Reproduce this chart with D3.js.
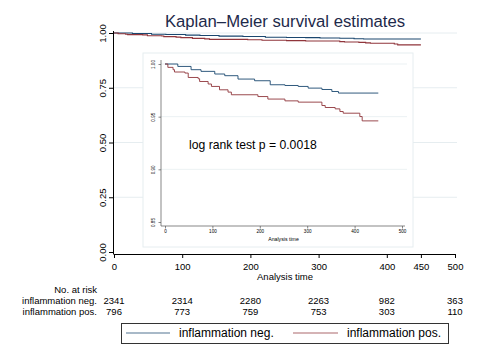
<!DOCTYPE html>
<html><head><meta charset="utf-8">
<script src="https://cdn.jsdelivr.net/npm/d3@7"></script>
<style>body{margin:0;background:#fff}svg{display:block}text{font-family:"Liberation Sans",Arial,Helvetica,sans-serif}</style>
</head><body><svg id="c" width="480" height="360"></svg>
<script>
// ---- data ----
const negTime = [0,27,55,76,105,126,154,189,222,253,281,302,331,352,366,450];
const negSurv = [1.000,0.9977,0.9946,0.9930,0.9905,0.9889,0.9857,0.9841,0.9803,0.9796,0.9787,0.9771,0.9758,0.9739,0.9724,0.9724];
const posTime = [0,6,17,20,42,49,70,73,91,98,115,133,140,196,217,253,281,331,338,359,369,376,411,416,450];
const posSurv = [1.000,0.9968,0.9946,0.9924,0.9914,0.9872,0.9860,0.9834,0.9810,0.9787,0.9755,0.9733,0.9708,0.9691,0.9667,0.9650,0.9638,0.9606,0.9587,0.9574,0.9549,0.9533,0.9501,0.9460,0.9460];
const seriesNames = ["inflammation neg.","inflammation pos."];
const riskTimes = [0,100,200,300,400,500];
const riskNeg = [2341,2314,2280,2263,982,363];
const riskPos = [796,773,759,753,303,110];
const mainXTicks = [0,100,200,300,400,450,500];
const mainYTicks = [0,0.25,0.5,0.75,1];
const insetXTicks = [0,100,200,300,400,500];
const insetYTicks = [0.85,0.90,0.95,1.00];
const titleText = "Kaplan\u2013Meier survival estimates";
const noteText = "log rank test p = 0.0018";

const colors = ["#1a476f","#90353b"];
const gridCol = "#e6edf0";
const svg = d3.select("#c");
const series = [
  negTime.map((t,i)=>[t,negSurv[i]]),
  posTime.map((t,i)=>[t,posSurv[i]])
];

// ---- title ----
svg.append("text").attr("x",285).attr("y",27).attr("text-anchor","middle")
  .attr("font-size",16.7).attr("fill","#1e2a4a").text(titleText);

// ---- main plot ----
const x = d3.scaleLinear().domain([0,500]).range([114,455]);
const y = d3.scaleLinear().domain([0,1]).range([252,33]);
const main = svg.append("g");
main.selectAll("line.g").data(mainYTicks.filter(d=>d>0)).join("line")
  .attr("x1",113).attr("x2",457).attr("y1",d=>y(d)).attr("y2",d=>y(d))
  .attr("stroke",gridCol).attr("stroke-width",1);

const xAx = main.append("g").attr("transform","translate(0,254)")
  .call(d3.axisBottom(x).tickValues(mainXTicks).tickSize(4).tickSizeOuter(0).tickFormat(d3.format("d")));
xAx.select(".domain").attr("d","M113.5,0.5H456");
xAx.selectAll("text").attr("font-size",9.5).attr("dy","0.95em").attr("fill","#000");
const yAx = main.append("g").attr("transform","translate(113,0)")
  .call(d3.axisLeft(y).tickValues(mainYTicks).tickSize(4).tickSizeOuter(0).tickFormat(d3.format(".2f")));
yAx.select(".domain").attr("d","M0.5,254H0.5V31");
yAx.selectAll(".tick text").attr("font-size",9.5).attr("fill","#000")
  .attr("x",null).attr("dy",null)
  .attr("transform","translate(-7,0) rotate(-90)").attr("text-anchor","middle").attr("dy","0em");

const line = d3.line().curve(d3.curveStepAfter).x(d=>x(d[0])).y(d=>y(d[1]));
series.forEach((s,i)=>main.append("path").attr("d",line(s)).attr("fill","none")
  .attr("stroke",colors[i]).attr("stroke-width",1.1));

// ---- inset ----
const ins = svg.append("g");
ins.append("rect").attr("x",143).attr("y",53).attr("width",270).attr("height",194)
  .attr("fill","#fff").attr("stroke",gridCol).attr("stroke-width",1);
const ix = d3.scaleLinear().domain([0,500]).range([165,402]);
const iy = d3.scaleLinear().domain([0.85,1]).range([222,64]);
ins.selectAll("line.g").data(insetYTicks.filter(d=>d>0.85)).join("line")
  .attr("x1",161).attr("x2",407).attr("y1",d=>iy(d)).attr("y2",d=>iy(d))
  .attr("stroke",gridCol).attr("stroke-width",0.8);
const ixAx = ins.append("g").attr("transform","translate(0,226)")
  .call(d3.axisBottom(ix).tickValues(insetXTicks).tickSize(2.5).tickSizeOuter(0).tickFormat(d3.format("d")));
ixAx.select(".domain").attr("d","M161,0H405");
ixAx.selectAll("path,line").attr("stroke","#555").attr("stroke-width",0.7);
ixAx.selectAll("text").attr("font-size",4.6).attr("y",4).attr("dy","0.71em").attr("fill","#000");
const iyAx = ins.append("g").attr("transform","translate(161,0)")
  .call(d3.axisLeft(iy).tickValues(insetYTicks).tickSize(2.5).tickSizeOuter(0).tickFormat(d3.format(".2f")));
iyAx.select(".domain").attr("d","M0,226V60");
iyAx.selectAll("path,line").attr("stroke","#555").attr("stroke-width",0.7);
iyAx.selectAll(".tick text").attr("font-size",4.6).attr("fill","#000")
  .attr("x",null).attr("dy",null)
  .attr("transform","translate(-6,0) rotate(-90)").attr("text-anchor","middle");
ins.append("text").attr("x",ix(250)).attr("y",241).attr("text-anchor","middle")
  .attr("font-size",5.2).text("Analysis time");
const iline = d3.line().curve(d3.curveStepAfter).x(d=>ix(d[0])).y(d=>iy(d[1]));
series.forEach((s,i)=>ins.append("path").attr("d",iline(s)).attr("fill","none")
  .attr("stroke",colors[i]).attr("stroke-width",0.9));
ins.append("text").attr("x",189).attr("y",149).attr("font-size",12.2).text(noteText);

// ---- x title ----
svg.append("text").attr("x",285).attr("y",279.5).attr("text-anchor","middle")
  .attr("font-size",9.5).text("Analysis time");

// ---- risk table ----
const rt = svg.append("g").attr("font-size",9.5);
rt.append("text").attr("x",97).attr("y",292.5).attr("text-anchor","end").text("No. at risk");
[riskNeg,riskPos].forEach((row,i)=>{
  const yy = 303.5 + i*11;
  rt.append("text").attr("x",97).attr("y",yy).attr("text-anchor","end").text(seriesNames[i]);
  rt.selectAll(null).data(row).join("text").attr("x",(d,j)=>x(riskTimes[j])).attr("y",yy)
    .attr("text-anchor","middle").text(d=>d);
});

// ---- legend ----
const lg = svg.append("g");
lg.append("rect").attr("x",121.5).attr("y",323.5).attr("width",327).attr("height",20)
  .attr("fill","#fff").attr("stroke","#333").attr("stroke-width",1);
const lgItems = [{x1:126,x2:170,tx:179},{x1:293,x2:338,tx:347}];
lgItems.forEach((it,i)=>{
  lg.append("line").attr("x1",it.x1).attr("x2",it.x2).attr("y1",333).attr("y2",333)
    .attr("stroke",colors[i]).attr("stroke-width",1.1).attr("stroke-opacity",0.75);
  lg.append("text").attr("x",it.tx).attr("y",337.3).attr("font-size",12).text(seriesNames[i]);
});
</script></body></html>
